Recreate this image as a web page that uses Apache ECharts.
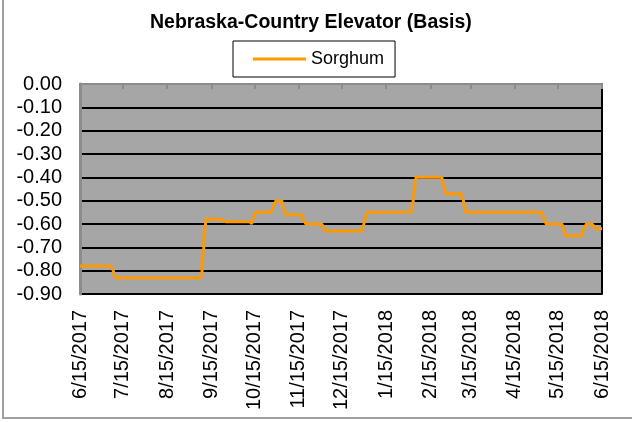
<!DOCTYPE html>
<html>
<head>
<meta charset="utf-8">
<script src="https://cdn.jsdelivr.net/npm/echarts@6/dist/echarts.min.js"></script>
<style>
  html, body { margin: 0; padding: 0; background: #fff; }
  #chart { width: 632px; height: 422px; }
</style>
</head>
<body>
<div id="chart"></div>
<script>
// weekly basis quotes, change points
var dates = ['2017-06-15', '2017-07-07', '2017-07-10', '2017-09-08', '2017-09-11', '2017-09-22',
    '2017-09-25', '2017-10-12', '2017-10-13', '2017-10-16', '2017-10-27', '2017-10-30',
    '2017-11-03', '2017-11-06', '2017-11-17', '2017-11-20', '2017-12-01', '2017-12-04',
    '2017-12-29', '2018-01-02', '2018-02-02', '2018-02-05', '2018-02-23', '2018-02-26',
    '2018-03-09', '2018-03-12', '2018-05-04', '2018-05-07', '2018-05-18', '2018-05-21',
    '2018-06-01', '2018-06-04', '2018-06-08', '2018-06-11', '2018-06-15'];
var sorghum = [-0.78, -0.78, -0.83, -0.83, -0.58, -0.58,
    -0.59, -0.59, -0.60, -0.55, -0.55, -0.50,
    -0.50, -0.56, -0.56, -0.60, -0.60, -0.63,
    -0.63, -0.55, -0.55, -0.40, -0.40, -0.47,
    -0.47, -0.55, -0.55, -0.60, -0.60, -0.65,
    -0.65, -0.60, -0.60, -0.62, -0.62];
var tickDates = ['2017-06-15', '2017-07-15', '2017-08-15', '2017-09-15', '2017-10-15',
    '2017-11-15', '2017-12-15', '2018-01-15', '2018-02-15', '2018-03-15',
    '2018-04-15', '2018-05-15', '2018-06-15'];

function toTs(s) {
    var p = s.split('-');
    return new Date(+p[0], +p[1] - 1, +p[2]).getTime();
}

var ticks = tickDates.map(toTs);
var xMin = ticks[0];
var xMax = ticks[ticks.length - 1];

var chart = echarts.init(document.getElementById('chart'));

var option = {
    animation: false,
    backgroundColor: '#fff',
    textStyle: { fontFamily: 'Liberation Sans, Arial, sans-serif' },
    title: {
        text: 'Nebraska-Country Elevator (Basis)',
        left: 150,
        top: 13,
        padding: 0,
        textStyle: { fontSize: 19.5, fontWeight: 'bold', color: '#000' }
    },
    legend: {
        left: 233,
        top: 41,
        padding: [8, 11, 8, 20],
        icon: 'rect',
        itemWidth: 53,
        itemHeight: 3,
        borderColor: '#000',
        borderWidth: 1,
        textStyle: { fontSize: 18, color: '#000', lineHeight: 20 },
        data: ['Sorghum']
    },
    grid: {
        left: 80,
        right: 30,
        top: 84,
        bottom: 128,
        show: true,
        backgroundColor: '#a6a6a6',
        borderWidth: 0
    },
    xAxis: [
        {
            type: 'value',
            min: xMin,
            max: xMax,
            position: 'bottom',
            axisLine: { show: false },
            axisTick: { show: false },
            splitLine: { show: false },
            axisLabel: {
                rotate: 90,
                margin: 16,
                fontSize: 20,
                color: '#000',
                customValues: ticks,
                showMinLabel: true,
                showMaxLabel: true,
                formatter: function (v) {
                    var d = new Date(v);
                    return (d.getMonth() + 1) + '/' + d.getDate() + '/' + d.getFullYear();
                }
            }
        },
        {
            type: 'value',
            min: xMin,
            max: xMax,
            position: 'top',
            axisLine: { show: true, lineStyle: { color: '#8c8c8c', width: 2 } },
            axisTick: {
                show: true,
                inside: true,
                length: 5,
                customValues: ticks,
                lineStyle: { color: '#8c8c8c', width: 2 }
            },
            axisLabel: { show: false },
            splitLine: { show: false }
        }
    ],
    yAxis: [
        {
            type: 'value',
            min: -0.9,
            max: 0,
            interval: 0.1,
            position: 'left',
            axisLine: { show: true, lineStyle: { color: '#8c8c8c', width: 3 } },
            axisTick: { show: false },
            axisLabel: {
                margin: 18,
                fontSize: 20,
                color: '#000',
                formatter: function (v) { return v.toFixed(2); }
            },
            splitLine: {
                show: true,
                showMaxLine: false,
                lineStyle: { color: '#000', width: 2 }
            }
        },
        {
            type: 'value',
            min: -0.9,
            max: 0,
            interval: 0.1,
            position: 'right',
            axisLine: { show: true, lineStyle: { color: '#000', width: 2 } },
            axisTick: { show: false },
            axisLabel: { show: false },
            splitLine: { show: false }
        }
    ],
    graphic: [
        {
            type: 'rect',
            shape: { x: 3, y: -5, width: 660, height: 423 },
            style: { fill: 'none', stroke: '#a0a0a0', lineWidth: 2 },
            silent: true
        }
    ],
    series: [
        {
            name: 'Sorghum',
            type: 'line',
            xAxisIndex: 0,
            yAxisIndex: 0,
            symbol: 'none',
            lineStyle: { color: '#ff9900', width: 3 },
            itemStyle: { color: '#ff9900' },
            data: dates.map(function (d, i) { return [toTs(d), sorghum[i]]; })
        }
    ]
};
chart.setOption(option);

window.addEventListener('resize', function () {
    chart.resize();
});
</script>
</body>
</html>
